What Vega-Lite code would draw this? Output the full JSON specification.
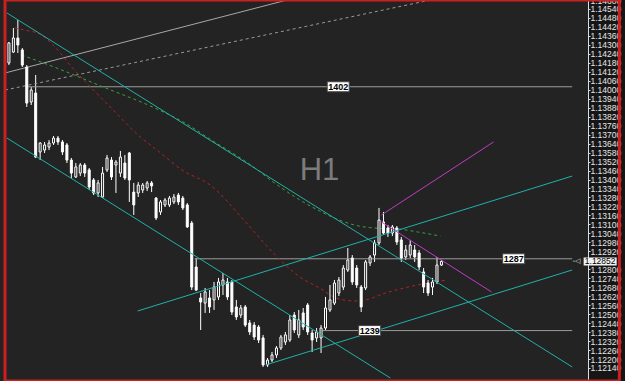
{
  "$schema": "https://vega.github.io/schema/vega-lite/v6.json",
  "width": 588,
  "height": 381,
  "autosize": {"type": "none"},
  "padding": {"left": 0, "top": 0, "right": 37, "bottom": 0},
  "background": "#161616",
  "config": {
    "view": {"fill": "#232323", "stroke": null},
    "axisY": {"labelOverlap": false, "labelFlush": false, "labelBound": false, "grid": false, "title": null, "tickCount": 60,
      "labelColor": "#e6e6e6", "labelFont": "Liberation Sans", "labelFontSize": 8.5, "labelPadding": 0,
      "tickSize": 2, "tickColor": "#dddddd", "domainColor": "#dddddd", "labelBaseline": "middle"}
  },
  "datasets": {
    "candles": [
      {"t":0,"o":1.14179,"h":1.14319,"l":1.14165,"c":1.14313},
      {"t":1,"o":1.14252,"h":1.14413,"l":1.14246,"c":1.14346},
      {"t":2,"o":1.14346,"h":1.14466,"l":1.14246,"c":1.14299},
      {"t":3,"o":1.14266,"h":1.14279,"l":1.14152,"c":1.14165},
      {"t":4,"o":1.14152,"h":1.14165,"l":1.13885,"c":1.13911},
      {"t":5,"o":1.13918,"h":1.14018,"l":1.13898,"c":1.13998},
      {"t":6,"o":1.13978,"h":1.14099,"l":1.13545,"c":1.1355},
      {"t":7,"o":1.13584,"h":1.1365,"l":1.1353,"c":1.13644},
      {"t":8,"o":1.13597,"h":1.13651,"l":1.13577,"c":1.13631},
      {"t":9,"o":1.13617,"h":1.13664,"l":1.13597,"c":1.13644},
      {"t":10,"o":1.13644,"h":1.13691,"l":1.13631,"c":1.13677},
      {"t":11,"o":1.13677,"h":1.13691,"l":1.13631,"c":1.13651},
      {"t":12,"o":1.13651,"h":1.13664,"l":1.13564,"c":1.13584},
      {"t":13,"o":1.13631,"h":1.13644,"l":1.1351,"c":1.1353},
      {"t":14,"o":1.1353,"h":1.13544,"l":1.1341,"c":1.13443},
      {"t":15,"o":1.13417,"h":1.1351,"l":1.1341,"c":1.13484},
      {"t":16,"o":1.13443,"h":1.1351,"l":1.13423,"c":1.13497},
      {"t":17,"o":1.13497,"h":1.1351,"l":1.13417,"c":1.13443},
      {"t":18,"o":1.13464,"h":1.13477,"l":1.1333,"c":1.1335},
      {"t":19,"o":1.13397,"h":1.1341,"l":1.13296,"c":1.1331},
      {"t":20,"o":1.1331,"h":1.13397,"l":1.13283,"c":1.13377},
      {"t":21,"o":1.13283,"h":1.13484,"l":1.13276,"c":1.13443},
      {"t":22,"o":1.13464,"h":1.13564,"l":1.1345,"c":1.13544},
      {"t":23,"o":1.1353,"h":1.1355,"l":1.13397,"c":1.13417},
      {"t":24,"o":1.13497,"h":1.1353,"l":1.1331,"c":1.13517},
      {"t":25,"o":1.13443,"h":1.13591,"l":1.13417,"c":1.1355},
      {"t":26,"o":1.1351,"h":1.13564,"l":1.13397,"c":1.1341},
      {"t":27,"o":1.13577,"h":1.13584,"l":1.1325,"c":1.13397},
      {"t":28,"o":1.13316,"h":1.13377,"l":1.13163,"c":1.1323},
      {"t":29,"o":1.1331,"h":1.13383,"l":1.13283,"c":1.13363},
      {"t":30,"o":1.1333,"h":1.13377,"l":1.1331,"c":1.13363},
      {"t":31,"o":1.13343,"h":1.1339,"l":1.13323,"c":1.13377},
      {"t":32,"o":1.13377,"h":1.1339,"l":1.13316,"c":1.13357},
      {"t":33,"o":1.13276,"h":1.13283,"l":1.13129,"c":1.13143},
      {"t":34,"o":1.13183,"h":1.13263,"l":1.13163,"c":1.1325},
      {"t":35,"o":1.1323,"h":1.13276,"l":1.13216,"c":1.13263},
      {"t":36,"o":1.1323,"h":1.1329,"l":1.13216,"c":1.13276},
      {"t":37,"o":1.1325,"h":1.13303,"l":1.13236,"c":1.13283},
      {"t":38,"o":1.13296,"h":1.1331,"l":1.1323,"c":1.1325},
      {"t":39,"o":1.13276,"h":1.1329,"l":1.13196,"c":1.1321},
      {"t":40,"o":1.1323,"h":1.13243,"l":1.13076,"c":1.13083},
      {"t":41,"o":1.13109,"h":1.13123,"l":1.12661,"c":1.12681},
      {"t":42,"o":1.12815,"h":1.12875,"l":1.12654,"c":1.12661},
      {"t":43,"o":1.12608,"h":1.12641,"l":1.12394,"c":1.12581},
      {"t":44,"o":1.12574,"h":1.12675,"l":1.12508,"c":1.12648},
      {"t":45,"o":1.12608,"h":1.12661,"l":1.12508,"c":1.12548},
      {"t":46,"o":1.12595,"h":1.12715,"l":1.12528,"c":1.12681},
      {"t":47,"o":1.12615,"h":1.12742,"l":1.12595,"c":1.12715},
      {"t":48,"o":1.12695,"h":1.12775,"l":1.12628,"c":1.12728},
      {"t":49,"o":1.12715,"h":1.12742,"l":1.12595,"c":1.12615},
      {"t":50,"o":1.12715,"h":1.12728,"l":1.12494,"c":1.12514},
      {"t":51,"o":1.12548,"h":1.12595,"l":1.12461,"c":1.12481},
      {"t":52,"o":1.12494,"h":1.12561,"l":1.12474,"c":1.12541},
      {"t":53,"o":1.12548,"h":1.12561,"l":1.12414,"c":1.12427},
      {"t":54,"o":1.12441,"h":1.12461,"l":1.12361,"c":1.12381},
      {"t":55,"o":1.12427,"h":1.12447,"l":1.12327,"c":1.12347},
      {"t":56,"o":1.12414,"h":1.12427,"l":1.12307,"c":1.12327},
      {"t":57,"o":1.12341,"h":1.12361,"l":1.12147,"c":1.1216},
      {"t":58,"o":1.1216,"h":1.12207,"l":1.12147,"c":1.12193},
      {"t":59,"o":1.12193,"h":1.12247,"l":1.1218,"c":1.12227},
      {"t":60,"o":1.12227,"h":1.12287,"l":1.12207,"c":1.12274},
      {"t":61,"o":1.12274,"h":1.12361,"l":1.1226,"c":1.12347},
      {"t":62,"o":1.12314,"h":1.12381,"l":1.12294,"c":1.12361},
      {"t":63,"o":1.12327,"h":1.12494,"l":1.12314,"c":1.12461},
      {"t":64,"o":1.12494,"h":1.12514,"l":1.12374,"c":1.12394},
      {"t":65,"o":1.12361,"h":1.12528,"l":1.12341,"c":1.12461},
      {"t":66,"o":1.12508,"h":1.12541,"l":1.12394,"c":1.12414},
      {"t":67,"o":1.12561,"h":1.12574,"l":1.12361,"c":1.12381},
      {"t":68,"o":1.12374,"h":1.12394,"l":1.12247,"c":1.12327},
      {"t":69,"o":1.12341,"h":1.12407,"l":1.12314,"c":1.12381},
      {"t":70,"o":1.12341,"h":1.12427,"l":1.1224,"c":1.12407},
      {"t":71,"o":1.12407,"h":1.12615,"l":1.12394,"c":1.12541},
      {"t":72,"o":1.12528,"h":1.12695,"l":1.12514,"c":1.12595},
      {"t":73,"o":1.12574,"h":1.12728,"l":1.12561,"c":1.12708},
      {"t":74,"o":1.12641,"h":1.12748,"l":1.12621,"c":1.12728},
      {"t":75,"o":1.12681,"h":1.12828,"l":1.12661,"c":1.12808},
      {"t":76,"o":1.12795,"h":1.12942,"l":1.12782,"c":1.12862},
      {"t":77,"o":1.12875,"h":1.12895,"l":1.12695,"c":1.12715},
      {"t":78,"o":1.12808,"h":1.12828,"l":1.12675,"c":1.12695},
      {"t":79,"o":1.12681,"h":1.12695,"l":1.12514,"c":1.12548},
      {"t":80,"o":1.12675,"h":1.12862,"l":1.12661,"c":1.12849},
      {"t":81,"o":1.12842,"h":1.12895,"l":1.12822,"c":1.12882},
      {"t":82,"o":1.12895,"h":1.12996,"l":1.12849,"c":1.12976},
      {"t":83,"o":1.12976,"h":1.1321,"l":1.12962,"c":1.13129},
      {"t":84,"o":1.13116,"h":1.13183,"l":1.13029,"c":1.13042},
      {"t":85,"o":1.13076,"h":1.13096,"l":1.13016,"c":1.13042},
      {"t":86,"o":1.13042,"h":1.13096,"l":1.13022,"c":1.13083},
      {"t":87,"o":1.13076,"h":1.13089,"l":1.12962,"c":1.12982},
      {"t":88,"o":1.12996,"h":1.13016,"l":1.12849,"c":1.12875},
      {"t":89,"o":1.12882,"h":1.12962,"l":1.12862,"c":1.12929},
      {"t":90,"o":1.12895,"h":1.12996,"l":1.12875,"c":1.12962},
      {"t":91,"o":1.12929,"h":1.12962,"l":1.12849,"c":1.12882},
      {"t":92,"o":1.12909,"h":1.12929,"l":1.12795,"c":1.12815},
      {"t":93,"o":1.12782,"h":1.12808,"l":1.12641,"c":1.12681},
      {"t":94,"o":1.12708,"h":1.12728,"l":1.12621,"c":1.12641},
      {"t":95,"o":1.12681,"h":1.12742,"l":1.12628,"c":1.12715},
      {"t":96,"o":1.12715,"h":1.12882,"l":1.12701,"c":1.12828},
      {"t":97,"o":1.12828,"h":1.12862,"l":1.12822,"c":1.12852}
    ],
    "lines": [
      {"id":"g1","t":-0.882,"p":1.14112},{"id":"g1","t":62.39,"p":1.146},
      {"id":"g2","t":-0.882,"p":1.13998},{"id":"g2","t":94.58,"p":1.146},
      {"id":"h1402","t":4.19,"p":1.1402},{"id":"h1402","t":126.32,"p":1.1402},
      {"id":"h1287","t":41.67,"p":1.1287},{"id":"h1287","t":126.32,"p":1.1287},
      {"id":"h1239","t":70.33,"p":1.1239},{"id":"h1239","t":126.32,"p":1.1239},
      {"id":"c1","t":-0.441,"p":1.14513},{"id":"c1","t":126.32,"p":1.12147},
      {"id":"c2","t":-0.441,"p":1.13677},{"id":"c2","t":85.54,"p":1.12073},
      {"id":"c3","t":28.88,"p":1.12521},{"id":"c3","t":126.32,"p":1.13423},
      {"id":"c4","t":57.54,"p":1.1216},{"id":"c4","t":126.32,"p":1.12795},
      {"id":"m1","t":83.55,"p":1.13163},{"id":"m1","t":108.69,"p":1.13651},
      {"id":"m2","t":83.55,"p":1.13116},{"id":"m2","t":108.25,"p":1.12648}
    ],
    "ma": [
      {"id":"red","t":1.32,"p":1.14413},{"id":"red","t":3.53,"p":1.14399},{"id":"red","t":6.83,"p":1.14373},
      {"id":"red","t":10.14,"p":1.14292},{"id":"red","t":13.89,"p":1.14159},{"id":"red","t":18.3,"p":1.14018},
      {"id":"red","t":23.37,"p":1.13865},{"id":"red","t":28.44,"p":1.13711},{"id":"red","t":33.73,"p":1.13584},
      {"id":"red","t":38.8,"p":1.13464},{"id":"red","t":45.41,"p":1.13357},{"id":"red","t":52.69,"p":1.13129},
      {"id":"red","t":59.3,"p":1.12909},{"id":"red","t":65.26,"p":1.12748},{"id":"red","t":69.66,"p":1.12675},
      {"id":"red","t":73.41,"p":1.12608},{"id":"red","t":77.38,"p":1.12588},{"id":"red","t":80.03,"p":1.12595},
      {"id":"red","t":84.44,"p":1.12641},{"id":"red","t":89.51,"p":1.12681},{"id":"red","t":93.92,"p":1.12708},
      {"id":"red","t":98.33,"p":1.12728},
      {"id":"green","t":2.87,"p":1.14232},{"id":"green","t":10.14,"p":1.14152},{"id":"green","t":21.16,"p":1.14018},
      {"id":"green","t":32.19,"p":1.13885},{"id":"green","t":39.46,"p":1.13778},{"id":"green","t":45.41,"p":1.13664},
      {"id":"green","t":54.23,"p":1.13497},{"id":"green","t":60.19,"p":1.13363},{"id":"green","t":65.26,"p":1.13263},
      {"id":"green","t":69.66,"p":1.1319},{"id":"green","t":74.07,"p":1.13129},{"id":"green","t":78.48,"p":1.13089},
      {"id":"green","t":81.79,"p":1.13076},{"id":"green","t":87.3,"p":1.13069},{"id":"green","t":91.71,"p":1.13049},
      {"id":"green","t":96.78,"p":1.13022}
    ],
    "tags": [
      {"t":73.85,"p":1.1402,"text":"1402"},
      {"t":113.2,"p":1.1287,"text":"1287"},
      {"t":80.9,"p":1.1239,"text":"1239"}
    ],
    "price": [{"t":132.6,"p":1.12852,"text":"1.12852"}],
    "marker": [{"t":127.3,"p":1.12852,"text":"-◁"}],
    "title": [{"t":69.66,"p":1.13457,"text":"H1"}]
  },
  "layer": [
    {
      "data": {"name": "candles"},
      "mark": {"type": "rule", "color": "#ffffff", "strokeWidth": 1},
      "encoding": {
        "x": {"field": "t", "type": "quantitative", "scale": {"domain": [-0.882, 128.75], "nice": false, "zero": false}, "axis": null},
        "y": {"field": "l", "type": "quantitative", "scale": {"domain": [1.12053, 1.146], "nice": false, "zero": false},
          "axis": {
            "orient": "right", "title": null, "grid": false, "labelOverlap": false, "tickCount": 60,
            "values": [1.1214,1.122,1.1226,1.1232,1.1238,1.1244,1.125,1.1256,1.1262,1.1268,1.1274,1.128,1.1292,1.1298,1.1304,1.131,1.1316,1.1322,1.1328,1.1334,1.134,1.1346,1.1352,1.1358,1.1364,1.137,1.1376,1.1382,1.1388,1.1394,1.14,1.1406,1.1412,1.1418,1.1424,1.143,1.1436,1.1442,1.1448,1.1454,1.146],
            "format": ".5f"
          }},
        "y2": {"field": "h"}
      }
    },
    {
      "data": {"name": "lines"},
      "transform": [{"filter": {"field": "id", "oneOf": ["g1"]}}],
      "mark": {"type": "line", "color": "#a8a8a8", "strokeWidth": 1},
      "encoding": {
        "x": {"field": "t", "type": "quantitative", "axis": null},
        "y": {"field": "p", "type": "quantitative"},
        "detail": {"field": "id"}, "order": {"field": "t"}
      }
    },
    {
      "data": {"name": "lines"},
      "transform": [{"filter": {"field": "id", "oneOf": ["g2"]}}],
      "mark": {"type": "line", "color": "#9a9a9a", "strokeWidth": 1, "strokeDash": [3, 3]},
      "encoding": {
        "x": {"field": "t", "type": "quantitative", "axis": null},
        "y": {"field": "p", "type": "quantitative"},
        "detail": {"field": "id"}, "order": {"field": "t"}
      }
    },
    {
      "data": {"name": "lines"},
      "transform": [{"filter": {"field": "id", "oneOf": ["h1402", "h1287", "h1239"]}}],
      "mark": {"type": "line", "color": "#9c9c9c", "strokeWidth": 1},
      "encoding": {
        "x": {"field": "t", "type": "quantitative", "axis": null},
        "y": {"field": "p", "type": "quantitative"},
        "detail": {"field": "id"}, "order": {"field": "t"}
      }
    },
    {
      "data": {"name": "ma"},
      "transform": [{"filter": {"field": "id", "equal": "red"}}],
      "mark": {"type": "line", "color": "#b22222", "strokeWidth": 1, "strokeDash": [3, 3], "interpolate": "monotone"},
      "encoding": {
        "x": {"field": "t", "type": "quantitative", "axis": null},
        "y": {"field": "p", "type": "quantitative"},
        "order": {"field": "t"}
      }
    },
    {
      "data": {"name": "ma"},
      "transform": [{"filter": {"field": "id", "equal": "green"}}],
      "mark": {"type": "line", "color": "#3ca03c", "strokeWidth": 1, "strokeDash": [3, 3], "interpolate": "monotone"},
      "encoding": {
        "x": {"field": "t", "type": "quantitative", "axis": null},
        "y": {"field": "p", "type": "quantitative"},
        "order": {"field": "t"}
      }
    },
    {
      "data": {"name": "candles"},
      "mark": {"type": "bar", "width": 2, "stroke": "#ffffff", "strokeWidth": 1},
      "encoding": {
        "x": {"field": "t", "type": "quantitative", "axis": null},
        "y": {"field": "o", "type": "quantitative"},
        "y2": {"field": "c"},
        "fill": {"condition": {"test": "datum.c > datum.o", "value": "#232323"}, "value": "#ffffff"}
      }
    },
    {
      "data": {"name": "lines"},
      "transform": [{"filter": {"field": "id", "oneOf": ["c1", "c2", "c3", "c4"]}}],
      "mark": {"type": "line", "color": "#20b2aa", "strokeWidth": 1},
      "encoding": {
        "x": {"field": "t", "type": "quantitative", "axis": null},
        "y": {"field": "p", "type": "quantitative"},
        "detail": {"field": "id"}, "order": {"field": "t"}
      }
    },
    {
      "data": {"name": "lines"},
      "transform": [{"filter": {"field": "id", "oneOf": ["m1", "m2"]}}],
      "mark": {"type": "line", "color": "#c03cc4", "strokeWidth": 1},
      "encoding": {
        "x": {"field": "t", "type": "quantitative", "axis": null},
        "y": {"field": "p", "type": "quantitative"},
        "detail": {"field": "id"}, "order": {"field": "t"}
      }
    },
    {
      "data": {"name": "tags"},
      "mark": {"type": "point", "shape": "M-1.1,-0.5H1.1V0.5H-1.1Z", "size": 400, "filled": true, "fill": "#ffffff", "stroke": "#444444", "strokeWidth": 1, "opacity": 1},
      "encoding": {
        "x": {"field": "t", "type": "quantitative", "axis": null},
        "y": {"field": "p", "type": "quantitative"}
      }
    },
    {
      "data": {"name": "tags"},
      "mark": {"type": "text", "font": "Liberation Sans", "fontSize": 9, "fontWeight": "bold", "color": "#000000", "align": "center", "baseline": "middle"},
      "encoding": {
        "x": {"field": "t", "type": "quantitative", "axis": null},
        "y": {"field": "p", "type": "quantitative"},
        "text": {"field": "text"}
      }
    },
    {
      "data": {"name": "marker"},
      "mark": {"type": "text", "font": "DejaVu Sans", "fontSize": 7, "color": "#e0e0e0", "align": "center", "baseline": "middle"},
      "encoding": {
        "x": {"field": "t", "type": "quantitative", "axis": null},
        "y": {"field": "p", "type": "quantitative"},
        "text": {"field": "text"}
      }
    },
    {
      "data": {"name": "price"},
      "mark": {"type": "point", "shape": "M-1.65,-0.4H1.65V0.4H-1.65Z", "size": 400, "filled": true, "fill": "#f2f2f2", "opacity": 1},
      "encoding": {
        "x": {"field": "t", "type": "quantitative", "axis": null},
        "y": {"field": "p", "type": "quantitative"}
      }
    },
    {
      "data": {"name": "price"},
      "mark": {"type": "text", "font": "Liberation Sans", "fontSize": 8.5, "color": "#000000", "align": "center", "baseline": "middle"},
      "encoding": {
        "x": {"field": "t", "type": "quantitative", "axis": null},
        "y": {"field": "p", "type": "quantitative"},
        "text": {"field": "text"}
      }
    },
    {
      "data": {"name": "title"},
      "mark": {"type": "text", "font": "Liberation Sans", "fontSize": 31, "color": "#7c7c7c", "align": "center", "baseline": "middle"},
      "encoding": {
        "x": {"field": "t", "type": "quantitative", "axis": null},
        "y": {"field": "p", "type": "quantitative"},
        "text": {"field": "text"}
      }
    },
    {
      "data": {"values": [{}]},
      "mark": {"type": "rule", "color": "#cc2020", "strokeWidth": 3},
      "encoding": {
        "x": {"datum": -0.882, "type": "quantitative", "axis": null},
        "x2": {"datum": 136.905},
        "y": {"datum": 1.146, "type": "quantitative"}
      }
    },
    {
      "data": {"values": [{}]},
      "mark": {"type": "rule", "color": "#cc2020", "strokeWidth": 3},
      "encoding": {
        "x": {"datum": -0.882, "type": "quantitative", "axis": null},
        "x2": {"datum": 136.905},
        "y": {"datum": 1.12053, "type": "quantitative"}
      }
    },
    {
      "data": {"values": [{}]},
      "mark": {"type": "rule", "color": "#cc2020", "strokeWidth": 3},
      "encoding": {
        "x": {"datum": -0.882, "type": "quantitative", "axis": null},
        "y": {"datum": 1.146, "type": "quantitative"},
        "y2": {"datum": 1.12053}
      }
    },
    {
      "data": {"values": [{}]},
      "mark": {"type": "rule", "color": "#cc2020", "strokeWidth": 3},
      "encoding": {
        "x": {"datum": 136.905, "type": "quantitative", "axis": null},
        "y": {"datum": 1.146, "type": "quantitative"},
        "y2": {"datum": 1.12053}
      }
    }
  ]
}
